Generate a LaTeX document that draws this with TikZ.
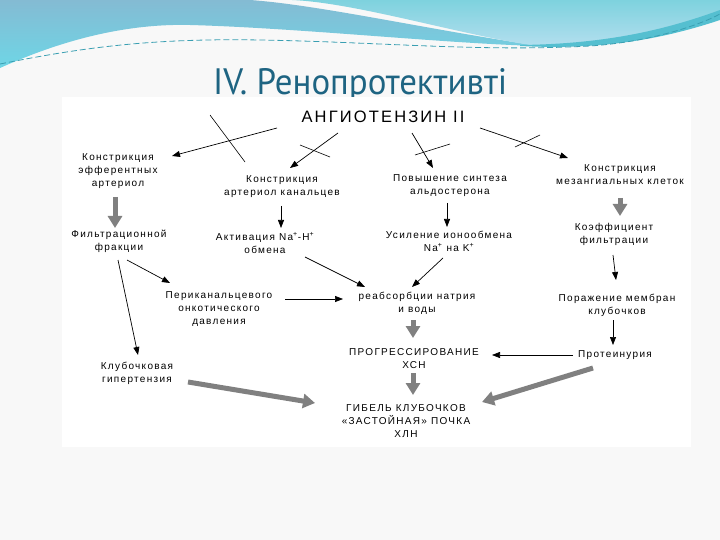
\documentclass[tikz,border=0pt]{standalone}
\usepackage{fontspec}
\setmainfont{Liberation Sans}[LetterSpace=13]
\newfontfamily\titlefont{PT Sans}
\usetikzlibrary{arrows.meta}
\definecolor{bgc}{HTML}{F8F8F8}
\definecolor{blA}{HTML}{84BBD3}
\definecolor{blB}{HTML}{6ED6E6}
\definecolor{brA}{HTML}{7ED2DE}
\definecolor{brB}{HTML}{B4DFEF}
\definecolor{band}{HTML}{55BFD0}
\definecolor{dashc}{HTML}{3A9FB2}
\definecolor{titlec}{HTML}{1E6482}
\definecolor{grayarr}{HTML}{808080}
\tikzset{
  txt/.style={align=center, font=\fontsize{10}{13}\selectfont, inner sep=1pt},
  thinarr/.style={draw=black, line width=0.7pt, -{Triangle[length=8pt,width=6pt]}},
  thickarr/.style={draw=grayarr, line width=5pt, -{Triangle[length=12pt,width=14pt]}},
  blockmark/.style={draw=black, line width=0.6pt},
}
\begin{document}
\begin{tikzpicture}[x=1pt,y=-1pt]
\useasboundingbox (0,0) rectangle (720,540);
\fill[bgc] (0,0) rectangle (720,540);
% background waves
\shade[top color=blA, bottom color=blB]
  (0,0) -- (250,0) .. controls (320,5) and (430,30) .. (540,46)
  .. controls (450,44) and (300,28) .. (190,25)
  .. controls (110,23) and (40,50) .. (0,68) -- cycle;
\shade[top color=brA, bottom color=brB]
  (292,0) -- (720,0) -- (720,18) .. controls (660,36) and (600,47) .. (545,47)
  .. controls (470,38) and (360,3) .. (292,0) -- cycle;
\fill[band] (520,45) .. controls (600,44) and (660,32) .. (720,10)
  -- (720,20) .. controls (660,40) and (600,50) .. (520,46) -- cycle;
\draw[dashc, line width=0.8pt, dash pattern=on 6pt off 3pt]
  (0,64) .. controls (80,48) and (150,38) .. (260,40)
  .. controls (380,42) and (480,52) .. (590,46)
  .. controls (650,42) and (700,25) .. (720,14);
% title
\node[anchor=base west, inner sep=0pt, text=titlec] (title) at (213,95)
  {\resizebox{294pt}{26pt}{\titlefont IV. Ренопротективті}};
% panel
\fill[white] (62,97) rectangle (691,447);
% nodes
\node[txt, font=\fontsize{16.5}{18}\selectfont] (ang) at (383,117) {АНГИОТЕНЗИН II};
\node[txt] (a) at (118,171) {Констрикция\\эфферентных\\артериол};
\node[txt] (b) at (282,187) {Констрикция\\артериол канальцев};
\node[txt] (c) at (450,186) {Повышение синтеза\\альдостерона};
\node[txt] (d) at (620,175) {Констрикция\\мезангиальных клеток};
\node[txt] (e) at (119,241) {Фильтрационной\\фракции};
\node[txt] (f) at (265,243) {Активация Na\textsuperscript{+}-H\textsuperscript{+}\\обмена};
\node[txt] (g) at (449,241) {Усиление ионообмена\\Na\textsuperscript{+} на K\textsuperscript{+}};
\node[txt] (h) at (614,234) {Коэффициент\\фильтрации};
\node[txt] (i) at (219,309) {Периканальцевого\\онкотического\\давления};
\node[txt] (j) at (417,303) {реабсорбции натрия\\и воды};
\node[txt] (k) at (617,305) {Поражение мембран\\клубочков};
\node[txt] (l) at (137,373) {Клубочковая\\гипертензия};
\node[txt] (m) at (414,359) {ПРОГРЕССИРОВАНИЕ\\ХСН};
\node[txt] (n) at (615,355) {Протеинурия};
\node[txt] (o) at (406,421) {ГИБЕЛЬ КЛУБОЧКОВ\\«ЗАСТОЙНАЯ» ПОЧКА\\ХЛН};
% connectors from angiotensin, with blocking marks
\draw[thinarr] ([shift={(-106,11)}]ang.center) -- ([shift={(54,-15)}]a.center);
\draw[thinarr] ([shift={(-45,16)}]ang.center) -- ([shift={(8,-19)}]b.center);
\draw[thinarr] ([shift={(29,16)}]ang.center) -- ([shift={(-17,-18)}]c.center);
\draw[thinarr] ([shift={(97,11)}]ang.center) -- ([shift={(-52,-17)}]d.center);
\draw[blockmark] (210,115) -- (245,162);
\draw[blockmark] (300,145) -- (330,157);
\draw[blockmark] (415,155) -- (450,144);
\draw[blockmark] (515,147) -- (540,135);
% other connectors
\draw[thickarr] ([shift={(-3,26)}]a.center) -- ([shift={(-4,-13)}]e.center);
\draw[thinarr] ([shift={(-1,19)}]b.center) -- ([shift={(16,-15)}]f.center);
\draw[thinarr] ([shift={(-3,17)}]c.center) -- ([shift={(-2,-14)}]g.center);
\draw[thickarr] ([shift={(0,23)}]d.center) -- ([shift={(6,-18)}]h.center);
\draw[thinarr] ([shift={(8,19)}]e.center) -- ([shift={(-49,-26)}]i.center);
\draw[thinarr] ([shift={(-1,19)}]e.center) -- ([shift={(1,-18)}]l.center);
\draw[thinarr] ([shift={(66,-10)}]i.center) -- ([shift={(-74,-4)}]j.center);
\draw[thinarr] ([shift={(40,14)}]f.center) -- ([shift={(-52,-16)}]j.center);
\draw[thinarr] ([shift={(-6,17)}]g.center) -- ([shift={(-5,-16)}]j.center);
\draw[thinarr] ([shift={(-1,21)}]h.center) -- ([shift={(-1,-25)}]k.center);
\draw[thickarr] ([shift={(-4,17)}]j.center) -- ([shift={(-1,-21)}]m.center);
\draw[thinarr] ([shift={(-4,15)}]k.center) -- ([shift={(-2,-10)}]n.center);
\draw[thinarr] ([shift={(-42,0)}]n.center) -- ([shift={(78,-4)}]m.center);
\draw[thickarr] ([shift={(-1,14)}]m.center) -- ([shift={(7,-26)}]o.center);
\draw[thickarr] ([shift={(51,9)}]l.center) -- ([shift={(-91,-18)}]o.center);
\draw[thickarr] ([shift={(-22,13)}]n.center) -- ([shift={(76,-19)}]o.center);
\end{tikzpicture}
\end{document}
